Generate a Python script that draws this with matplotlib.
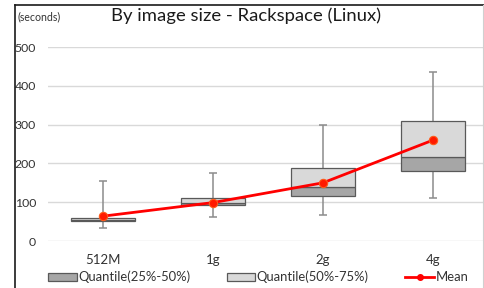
import matplotlib
matplotlib.use("Agg")
import matplotlib.pyplot as plt
from matplotlib.patches import Patch
from matplotlib.lines import Line2D
import numpy as np

plt.rcParams['font.family'] = ['Lato', 'DejaVu Sans']

categories = ["512M", "1g", "2g", "4g"]
whisker_low = [33, 61, 66, 112]
q1 = [51, 92, 117, 180]
median = [55, 97, 140, 216]
q3 = [58, 111, 187, 310]
whisker_high = [155, 176, 299, 436]
mean = [64, 99, 150, 260]
yticks = [0, 100, 200, 300, 400, 500]

W, H = 484, 288
fig = plt.figure(figsize=(W / 100, H / 100), dpi=100)
ax = fig.add_axes([48 / W, (H - 241) / H, 440 / W, 194 / H])

x = np.arange(len(categories))
dark = "#a6a6a6"
light = "#d9d9d9"
edge = "#595959"
wcol = "#8c8c8c"

ax.vlines(x, whisker_low, whisker_high, color=wcol, lw=1.1, zorder=2)
ax.hlines(whisker_low, x - 0.04, x + 0.04, color=wcol, lw=1.1, zorder=2)
ax.hlines(whisker_high, x - 0.04, x + 0.04, color=wcol, lw=1.1, zorder=2)

q1a = np.array(q1); meda = np.array(median); q3a = np.array(q3)
ax.bar(x, meda - q1a, bottom=q1a, width=0.58, color=dark, edgecolor=edge, lw=0.9, zorder=3)
ax.bar(x, q3a - meda, bottom=meda, width=0.58, color=light, edgecolor=edge, lw=0.9, zorder=3)

ax.plot(x, mean, color="#ff0000", lw=2, marker="o", markersize=6,
        markerfacecolor="#ff1a00", markeredgecolor="#ff5a1a", markeredgewidth=0.8, zorder=5)

ax.set_xlim(-0.5, len(categories) - 0.5)
ax.set_ylim(0, 500)
ax.set_yticks(yticks)
ax.set_yticklabels([str(v) for v in yticks], fontsize=8.8, color="#333333")
ax.set_xticks(x)
ax.set_xticklabels(categories, fontsize=9.5, color="#333333")
ax.tick_params(axis="both", length=0)
ax.tick_params(axis="y", pad=8.5)
ax.tick_params(axis="x", pad=9)
ax.grid(axis="y", color="#d9d9d9", lw=1)
ax.set_axisbelow(True)
for s in ax.spines.values():
    s.set_visible(False)

fig.text(246 / W, 1 - 16 / H, "By image size - Rackspace (Linux)", ha="center", va="center",
         fontsize=13.3, color="#1a1a1a")
fig.text(17 / W, 1 - 17 / H, "(seconds)", ha="left", va="center", fontsize=7.6, color="#333333")

handles = [Patch(facecolor=dark, edgecolor=edge, lw=0.9),
           Patch(facecolor=light, edgecolor=edge, lw=0.9),
           Line2D([], [], color="#ff0000", lw=2, marker="o", markersize=4)]
labels = ["Quantile(25%-50%)", "Quantile(50%-75%)", "Mean"]
fig.legend(handles, labels, loc="center left", bbox_to_anchor=(48 / W, 11 / H), ncol=3,
           frameon=False, fontsize=9.4, handlelength=2.2, handleheight=0.55, handletextpad=0.1,
           columnspacing=2.8, borderpad=0, borderaxespad=0, labelcolor="#333333")

# outer chart border (cropped image of chart frame)
fig.add_artist(Line2D([15 / W, 15 / W], [0, 1 - 4.5 / H], color="#1a1a1a", lw=1.2, transform=fig.transFigure))
fig.add_artist(Line2D([15 / W, 483.5 / W], [1 - 4.5 / H, 1 - 4.5 / H], color="#1a1a1a", lw=1.2, transform=fig.transFigure))
fig.add_artist(Line2D([483.3 / W, 483.3 / W], [0, 1 - 4.5 / H], color="#d0d0d0", lw=0.8, transform=fig.transFigure))

fig.savefig("out.png", dpi=100)
